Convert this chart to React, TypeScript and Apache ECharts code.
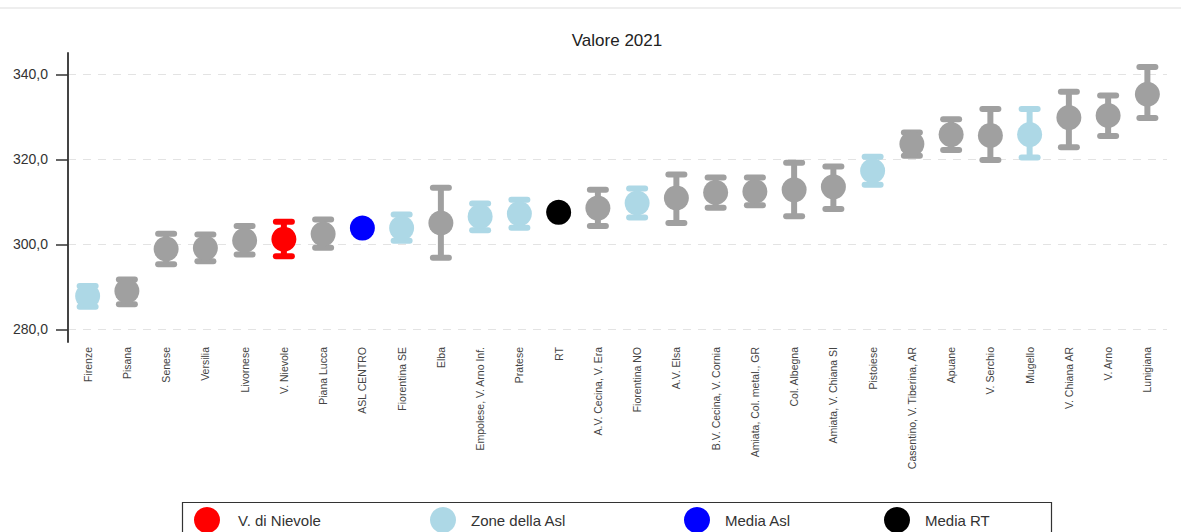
import React, { useEffect, useRef } from "react";
import * as echarts from "echarts";

const categories = [
  "Firenze", "Pisana", "Senese", "Versilia", "Livornese", "V. Nievole", "Piana Lucca",
  "ASL CENTRO", "Fiorentina SE", "Elba", "Empolese, V. Arno Inf.", "Pratese", "RT",
  "A.V. Cecina, V. Era", "Fiorentina NO", "A.V. Elsa", "B.V. Cecina, V. Cornia",
  "Amiata, Col. metal., GR", "Col. Albegna", "Amiata, V. Chiana SI", "Pistoiese",
  "Casentino, V. Tiberina, AR", "Apuane", "V. Serchio", "Mugello", "V. Chiana AR",
  "V. Arno", "Lunigiana",
];

const values = [
  287.8, 289.0, 298.9, 299.1, 300.9, 301.2, 302.4, 303.8, 303.8, 305.0, 306.5, 307.2, 307.5,
  308.5, 309.7, 310.9, 312.2, 312.4, 312.8, 313.5, 317.3, 323.6, 325.8, 325.6, 325.8, 329.8,
  330.3, 335.3,
];

const lower = [
  285.3, 285.9, 295.3, 296.0, 297.6, 297.2, 299.2, null, 300.8, 296.8, 303.3, 303.9, null,
  304.3, 306.3, 305.0, 308.6, 309.2, 306.6, 308.3, 314.0, 320.8, 322.2, 319.8, 320.4, 322.8,
  325.5, 329.7,
];

const upper = [
  290.2, 291.7, 302.5, 302.3, 304.3, 305.3, 305.8, null, 307.0, 313.3, 309.6, 310.5, null,
  312.8, 313.1, 316.4, 315.7, 315.7, 319.2, 318.3, 320.6, 326.3, 329.4, 331.8, 331.8, 335.9,
  335.0, 341.7,
];

// group of each category: "zona" (V. di Nievole), "asl" (Zone della Asl), "media" (Media Asl), "rt" (Media RT), "other"
const groups = [
  "asl", "other", "other", "other", "other", "zona", "other", "media", "asl", "other", "asl",
  "asl", "rt", "other", "asl", "other", "other", "other", "other", "other", "asl", "other",
  "other", "other", "asl", "other", "other", "other",
];

const yTicks = [280, 300, 320, 340];

const legendNames = ["V. di Nievole", "Zone della Asl", "Media Asl", "Media RT"];
const legendGroups = ["zona", "asl", "media", "rt"];

const groupColors: Record<string, string> = {
  zona: "#ff0000",
  asl: "#add8e6",
  media: "#0000ff",
  rt: "#000000",
  other: "#a0a0a0",
};

const FONT = 'Arial, "Liberation Sans", sans-serif';

// legend layout (pixels)
const legendIconCenters = [207, 443, 697, 897];
const legendTextPad = [13, 10, 10, 10];

export default function App() {
  const ref = useRef<HTMLDivElement>(null);

  useEffect(() => {
    if (!ref.current) return;
    const chart = echarts.init(ref.current, null, { renderer: "svg" });

    const errData = categories.map((c, i) => [i, lower[i], upper[i]]);

    const scatterSeries = ["other", ...legendGroups].map((g) => ({
      type: "scatter",
      name: g === "other" ? "Altre zone" : legendNames[legendGroups.indexOf(g)],
      symbol: "circle",
      symbolSize: 25,
      itemStyle: { color: groupColors[g], opacity: 1 },
      emphasis: { disabled: true },
      z: 3,
      data: categories
        .map((c, i) => (groups[i] === g ? [c, values[i]] : null))
        .filter((d) => d !== null),
    }));

    const legends = legendNames.map((n, i) => ({
      left: legendIconCenters[i] - 13,
      top: 507,
      padding: 0,
      itemWidth: 26,
      itemHeight: 26,
      selectedMode: false,
      textStyle: {
        fontSize: 15,
        fontFamily: FONT,
        color: "#333",
        padding: [0, 0, 0, legendTextPad[i]],
      },
      data: [{ name: n, icon: "circle" }],
    }));

    chart.setOption({
      animation: false,
      backgroundColor: "#ffffff",
      title: {
        text: "Valore 2021",
        left: 617,
        top: 32,
        textAlign: "center",
        padding: 0,
        textStyle: { fontSize: 17, fontWeight: "normal", color: "#222", fontFamily: FONT },
      },
      graphic: [
        {
          type: "line",
          shape: { x1: 0, y1: 8, x2: 1181, y2: 8 },
          style: { stroke: "#eeeeee", lineWidth: 2 },
        },
        {
          type: "rect",
          shape: { x: 182.5, y: 502.5, width: 869, height: 40 },
          style: { stroke: "#333", fill: "none", lineWidth: 1.2 },
          z: -1,
        },
      ],
      legend: legends,
      grid: { left: 68, right: 14, top: 53, bottom: 190, containLabel: false },
      xAxis: {
        type: "category",
        data: categories,
        boundaryGap: true,
        axisLine: { show: false },
        axisTick: { show: false },
        splitLine: { show: false },
        axisLabel: {
          interval: 0,
          rotate: 90,
          margin: 5,
          fontSize: 10.5,
          color: "#444",
          fontFamily: FONT,
        },
      },
      yAxis: {
        type: "value",
        min: 277,
        max: 345,
        axisLine: { show: true, lineStyle: { color: "#444", width: 2 } },
        axisTick: {
          show: true,
          length: 12,
          customValues: yTicks,
          lineStyle: { color: "#333", width: 1.5 },
        },
        axisLabel: {
          customValues: yTicks,
          margin: 20,
          fontSize: 14,
          color: "#333",
          fontFamily: FONT,
          formatter: (v: number) => v.toFixed(1).replace(".", ","),
        },
        splitLine: {
          show: true,
          lineStyle: { color: "#e3e3e3", type: [8, 7], width: 1 },
        },
      },
      series: [
        {
          type: "custom",
          name: "err",
          z: 2,
          silent: true,
          data: errData,
          renderItem: (params: any, api: any) => {
            const i = params.dataIndex;
            const lo = lower[i];
            const hi = upper[i];
            if (lo == null || hi == null) return null;
            const x = api.value(0);
            const pLo = api.coord([x, api.value(1)]);
            const pHi = api.coord([x, api.value(2)]);
            const color = groupColors[groups[i]];
            const style = { stroke: color, lineWidth: 6, lineCap: "round" };
            return {
              type: "group",
              children: [
                {
                  type: "line",
                  shape: { x1: pLo[0], y1: pLo[1], x2: pHi[0], y2: pHi[1] },
                  style: { stroke: color, lineWidth: 6 },
                },
                {
                  type: "line",
                  shape: { x1: pHi[0] - 8, y1: pHi[1], x2: pHi[0] + 8, y2: pHi[1] },
                  style,
                },
                {
                  type: "line",
                  shape: { x1: pLo[0] - 8, y1: pLo[1], x2: pLo[0] + 8, y2: pLo[1] },
                  style,
                },
              ],
            };
          },
        },
        ...scatterSeries,
      ],
    } as any);

    return () => chart.dispose();
  }, []);

  return (
    <div
      ref={ref}
      style={{ position: "fixed", left: 0, top: 0, width: 1181, height: 532 }}
    />
  );
}
